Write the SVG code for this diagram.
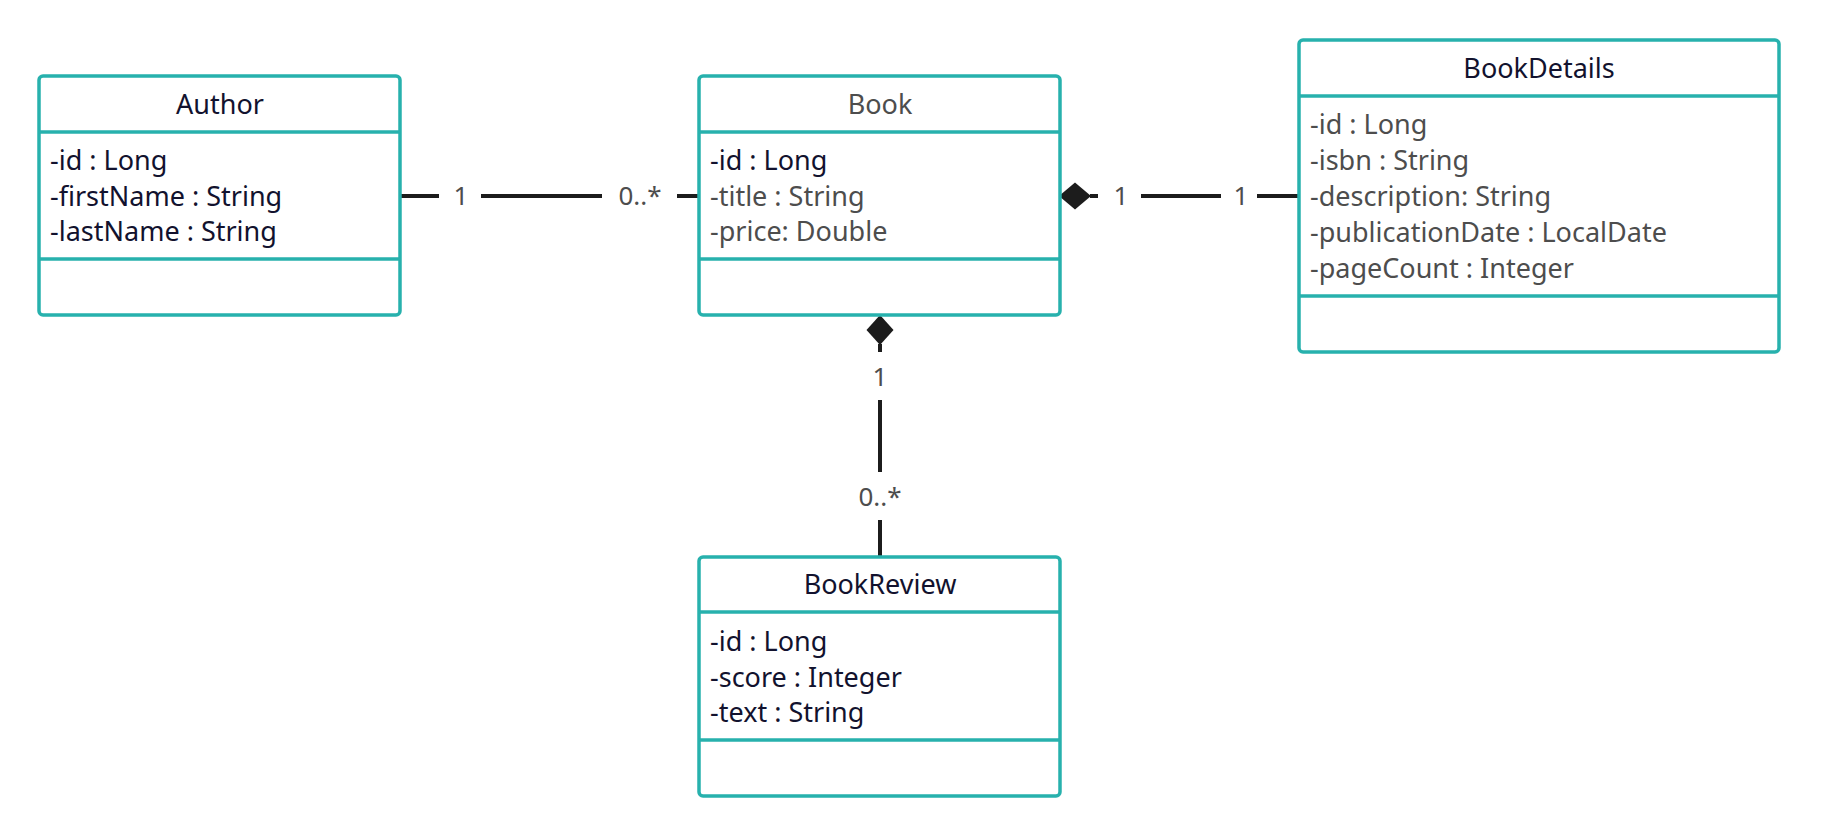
<svg xmlns="http://www.w3.org/2000/svg" width="1821" height="836" viewBox="0 0 1821 836">
<style>
.box{fill:#fff;stroke:#27b1ad;stroke-width:3.5}
.div{stroke:#27b1ad;stroke-width:3.5}
text{font-family:"Noto Sans","Open Sans","Liberation Sans",sans-serif;font-size:27px}
.dk{fill:#12122e}
.gy{fill:#4d4d4d}
.t{text-anchor:middle}
.lbl{fill:#4d4d4d;font-size:26px;text-anchor:middle}
.ln{stroke:#1c1c1c;stroke-width:4;fill:none}
.dia{fill:#1c1c1c}
</style>
<rect width="1821" height="836" fill="#fff"/>
<g id="connectors">
  <path class="ln" d="M400 196H439M481 196H602M677 196H699"/>
  <text class="lbl" x="461" y="205">1</text>
  <text class="lbl" x="640" y="205">0..*</text>
  <path class="dia" d="M1059 196L1075 182.5L1091 196L1075 209.5Z"/>
  <path class="ln" d="M1090 196H1098M1141 196H1221M1257 196H1299"/>
  <text class="lbl" x="1121" y="205">1</text>
  <text class="lbl" x="1241" y="205">1</text>
  <path class="dia" d="M880 315L893.5 330L880 345L866.5 330Z"/>
  <path class="ln" d="M880 344V352M880 400V472M880 520V557"/>
  <text class="lbl" x="880" y="386">1</text>
  <text class="lbl" x="880" y="506">0..*</text>
</g>
<g id="Author">
  <rect class="box" x="39" y="76" width="361" height="239" rx="4"/>
  <line class="div" x1="39" y1="132" x2="400" y2="132"/>
  <line class="div" x1="39" y1="259" x2="400" y2="259"/>
  <text class="dk t" x="220" y="114">Author</text>
  <text class="dk" x="50" y="170">-id : Long</text>
  <text class="dk" x="50" y="206">-firstName : String</text>
  <text class="dk" x="50" y="241">-lastName : String</text>
</g>
<g id="Book">
  <rect class="box" x="699" y="76" width="361" height="239" rx="4"/>
  <line class="div" x1="699" y1="132" x2="1060" y2="132"/>
  <line class="div" x1="699" y1="259" x2="1060" y2="259"/>
  <text class="gy t" x="880" y="114">Book</text>
  <text class="dk" x="710" y="170">-id : Long</text>
  <text class="gy" x="710" y="206">-title : String</text>
  <text class="gy" x="710" y="241">-price: Double</text>
</g>
<g id="BookDetails">
  <rect class="box" x="1299" y="40" width="480" height="312" rx="4"/>
  <line class="div" x1="1299" y1="96" x2="1779" y2="96"/>
  <line class="div" x1="1299" y1="296" x2="1779" y2="296"/>
  <text class="dk t" x="1539" y="78">BookDetails</text>
  <text class="gy" x="1310" y="134">-id : Long</text>
  <text class="gy" x="1310" y="170">-isbn : String</text>
  <text class="gy" x="1310" y="206">-description: String</text>
  <text class="gy" x="1310" y="242">-publicationDate : LocalDate</text>
  <text class="gy" x="1310" y="278">-pageCount : Integer</text>
</g>
<g id="BookReview">
  <rect class="box" x="699" y="557" width="361" height="239" rx="4"/>
  <line class="div" x1="699" y1="612" x2="1060" y2="612"/>
  <line class="div" x1="699" y1="740" x2="1060" y2="740"/>
  <text class="dk t" x="880" y="594">BookReview</text>
  <text class="dk" x="710" y="651">-id : Long</text>
  <text class="dk" x="710" y="687">-score : Integer</text>
  <text class="dk" x="710" y="722">-text : String</text>
</g>
</svg>
